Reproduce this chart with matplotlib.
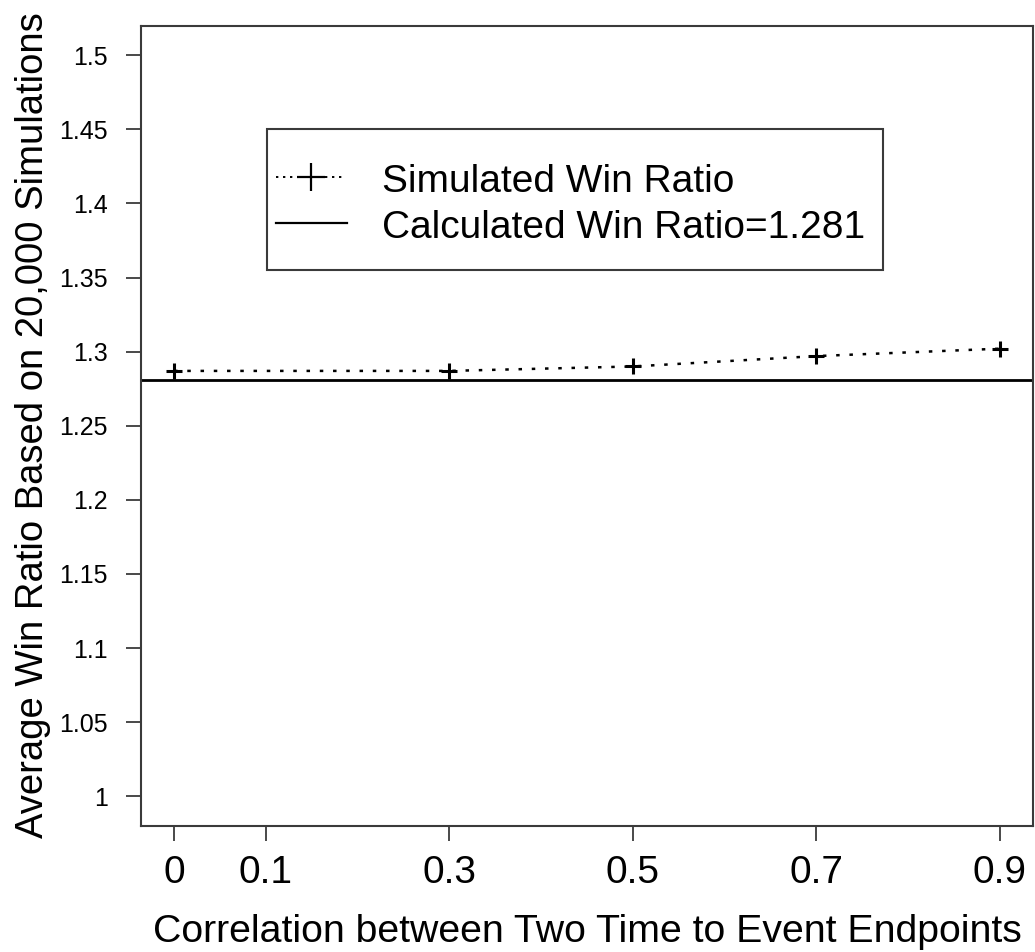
import matplotlib
matplotlib.use("Agg")
import matplotlib.pyplot as plt
from matplotlib.lines import Line2D
from matplotlib.patches import Rectangle

# Data
correlation = [0.0, 0.3, 0.5, 0.7, 0.9]
simulated_wr = [1.287, 1.287, 1.290, 1.297, 1.302]
calculated_wr = 1.281
x_ticks = [0, 0.1, 0.3, 0.5, 0.7, 0.9]
x_tick_labels = ["0", "0.1", "0.3", "0.5", "0.7", "0.9"]
y_ticks = [1, 1.05, 1.1, 1.15, 1.2, 1.25, 1.3, 1.35, 1.4, 1.45, 1.5]
y_tick_labels = ["1", "1.05", "1.1", "1.15", "1.2", "1.25", "1.3", "1.35", "1.4", "1.45", "1.5"]
legend_labels = ["Simulated Win Ratio", "Calculated Win Ratio=1.281"]

plt.rcParams['font.family'] = ['Liberation Sans', 'DejaVu Sans']

W, H = 1035, 952
fig = plt.figure(figsize=(W / 100, H / 100), dpi=100)
left, right, top, bottom = 141, 1033, 25.5, 826
ax = fig.add_axes([left / W, 1 - bottom / H, (right - left) / W, (bottom - top) / H])

frame_col = "#3a3a3a"
dotted = (0, (1.4, 3.9))
ax.plot(correlation, simulated_wr, linestyle=dotted, color="black", lw=1.8,
        marker="+", markersize=12, markeredgewidth=2.2)
ax.axhline(calculated_wr, color="black", lw=2.0)

ax.set_xlim(-0.036, 0.936)
ax.set_ylim(0.98, 1.52)
ax.set_xticks(x_ticks)
ax.set_xticklabels(x_tick_labels, fontsize=28)
ax.set_yticks(y_ticks)
ax.set_yticklabels(y_tick_labels, fontsize=18)
ax.tick_params(axis="x", length=10.8, width=1.3, color=frame_col, pad=10)
ax.tick_params(axis="y", length=10.8, width=1.3, color=frame_col, pad=13)
for s in ax.spines.values():
    s.set_color(frame_col)
    s.set_linewidth(1.5)

fig.text(587 / W, 1 - 942 / H, "Correlation between Two Time to Event Endpoints",
         fontsize=28.3, ha="center", va="baseline")
fig.text(43 / W, 1 - 425 / H, "Average Win Ratio Based on 20,000 Simulations",
         fontsize=27.5, ha="center", va="baseline", rotation=90, rotation_mode="anchor")

# Legend drawn manually (R style)
def ax_x(px):
    return (px - left) / (right - left)

def ax_y(py):
    return (bottom - py) / (bottom - top)

lx0, lx1, ly0, ly1 = 266.5, 883, 129.3, 270
ax.add_patch(Rectangle((ax_x(lx0), ax_y(ly1)), ax_x(lx1) - ax_x(lx0), ax_y(ly0) - ax_y(ly1),
                       transform=ax.transAxes, fill=False, edgecolor=frame_col, lw=1.5))
handle_rows = [176.7, 223.3]
text_baselines = [191.7, 238]
hx0, hx1 = 276, 345
ax.add_line(Line2D([ax_x(hx0), ax_x(hx1)], [ax_y(handle_rows[0])] * 2, transform=ax.transAxes,
                   linestyle=(0, (1.2, 2.4)), color="black", lw=1.4))
ax.add_line(Line2D([ax_x(311)], [ax_y(handle_rows[0])], transform=ax.transAxes,
                   marker="+", markersize=20, markeredgewidth=1.6, color="black", linestyle="none"))
ax.add_line(Line2D([ax_x(hx0), ax_x(347)], [ax_y(handle_rows[1])] * 2, transform=ax.transAxes,
                   color="black", lw=1.6))
for b, lab in zip(text_baselines, legend_labels):
    ax.text(ax_x(381.5), ax_y(b), lab, transform=ax.transAxes, fontsize=28,
            ha="left", va="baseline")

fig.savefig("out.png", dpi=100, facecolor="white")
